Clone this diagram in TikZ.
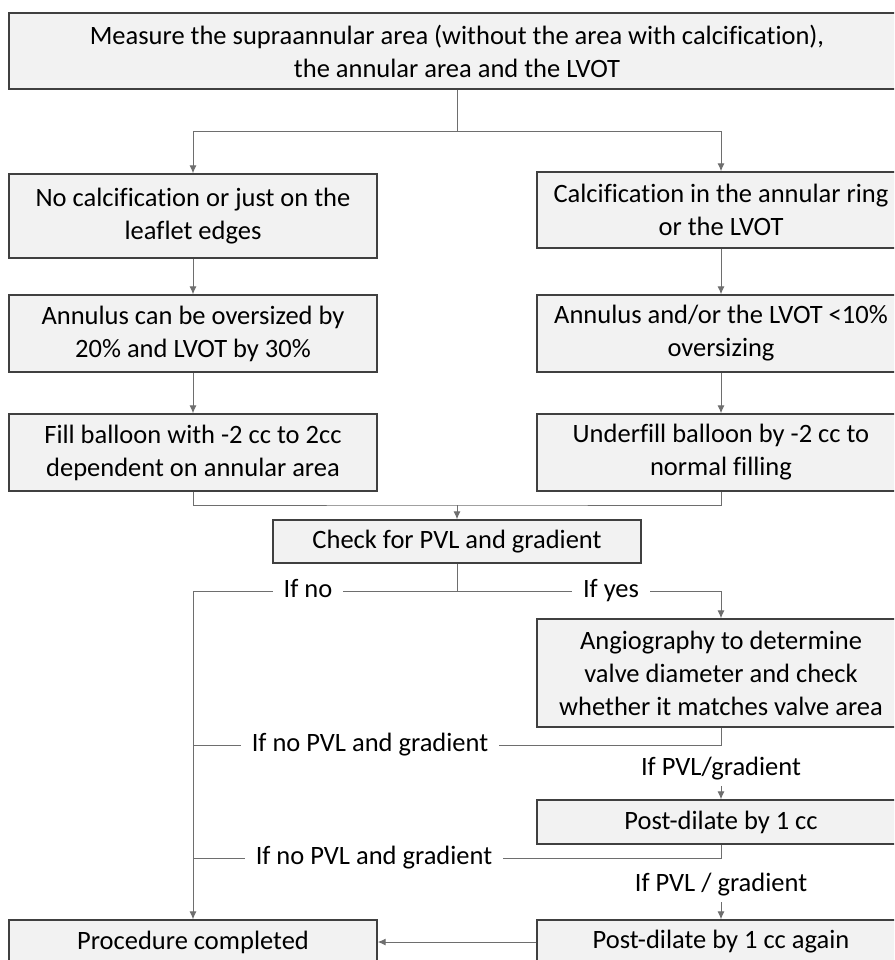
\documentclass[tikz,border=0pt]{standalone}
\usepackage{fontspec}
\setmainfont[Ligatures=NoCommon]{Carlito}
\usetikzlibrary{arrows.meta}
\definecolor{boxfill}{HTML}{F2F2F2}
\definecolor{boxline}{HTML}{404040}
\definecolor{connline}{HTML}{6E6E6E}
\newcommand{\fcfont}{\fontsize{26.5}{33}\selectfont}
\begin{document}
\begin{tikzpicture}[x=1pt,y=-1pt,
  box/.style={draw=boxline,line width=1.4pt,fill=boxfill,minimum width=368pt,inner sep=0pt,align=center,font=\fcfont},
  conn/.style={draw=connline,line width=1pt},
  arr/.style={conn,-{Latex[length=8pt,width=7pt]}},
  lbl/.style={fill=white,inner xsep=11pt,inner ysep=2pt,text height=18pt,text depth=6pt,font=\fcfont},
  vlbl/.style={inner xsep=0pt,inner ysep=5pt,text height=18pt,text depth=6pt,font=\fcfont}]
\useasboundingbox (0,0) rectangle (894,960);
\clip (0,0) rectangle (894,960);
\fill[white] (0,0) rectangle (894,960);

\node[box,minimum width=896pt,minimum height=76pt] (top) at (457,51) {Measure the supraannular area (without the area with calcification),\\the annular area and the LVOT};
\node[box,minimum height=84pt] (b1L) at (193,216) {No calcification or just on the\\leaflet edges};
\node[box,minimum height=76pt] (b1R) at (721,210) {Calcification in the annular ring\\or the LVOT};
\node[box,minimum height=77pt] (b2L) at (193,333.5) {Annulus can be oversized by\\20\% and LVOT by 30\%};
\node[box,minimum height=77pt] (b2R) at (721,333.5) {Annulus and/or the LVOT <10\%\\oversizing};
\node[box,minimum height=77pt] (b3L) at (193,452.5) {Fill balloon with -2 cc to 2cc\\dependent on annular area};
\node[box,minimum height=77pt] (b3R) at (721,452.5) {Underfill balloon by -2 cc to\\normal filling};
\node[box,minimum height=43pt] (check) at (457,541.5) {Check for PVL and gradient};
\node[box,minimum height=108pt] (angio) at (721,673) {Angiography to determine\\valve diameter and check\\whether it matches valve area};
\node[box,minimum height=44pt] (post1) at (721,822) {Post-dilate by 1 cc};
\node[box,minimum height=44pt] (proc) at (193,942) {Procedure completed};
\node[box,minimum height=44pt] (post2) at (721,942) {Post-dilate by 1 cc again};

\coordinate (j1) at (457,132);
\draw[conn] (top.south) -- (j1);
\draw[arr] (j1) -| (b1L.north);
\draw[arr] (j1) -| (b1R.north);
\draw[arr] (b1L) -- (b2L);
\draw[arr] (b1R) -- (b2R);
\draw[arr] (b2L) -- (b3L);
\draw[arr] (b2R) -- (b3R);
\coordinate (j2) at (457,505);
\draw[conn] (b3L.south) |- (j2) -| (b3R.south);
\draw[arr] (j2) -- (check.north);
\coordinate (j3) at (457,591);
\draw[conn] (check.south) -- (j3);
\draw[arr] (j3) -| (proc.north);
\draw[arr] (j3) -| (angio.north);
\coordinate (jA) at (721,745);
\coordinate (jAL) at (193,745);
\draw[conn] (angio.south) -- (jA) -- (jAL);
\coordinate (jP) at (721,858);
\coordinate (jPL) at (193,858);
\draw[conn] (post1.south) -- (jP) -- (jPL);
\draw[arr] (post2) -- (proc);

\node[lbl] (lno) at (308,591) {If no};
\node[lbl] (lyes) at (611,591) {If yes};
\node[lbl] (lnp1) at (370,745) {If no PVL and gradient};
\node[lbl] (lnp2) at (374,858) {If no PVL and gradient};
\node[vlbl] (lp1) at (721,769) {If PVL/gradient};
\node[vlbl] (lp2) at (721,885) {If PVL / gradient};
\draw[arr] (lp1) -- (post1);
\draw[arr] (lp2) -- (post2);
\end{tikzpicture}
\end{document}
